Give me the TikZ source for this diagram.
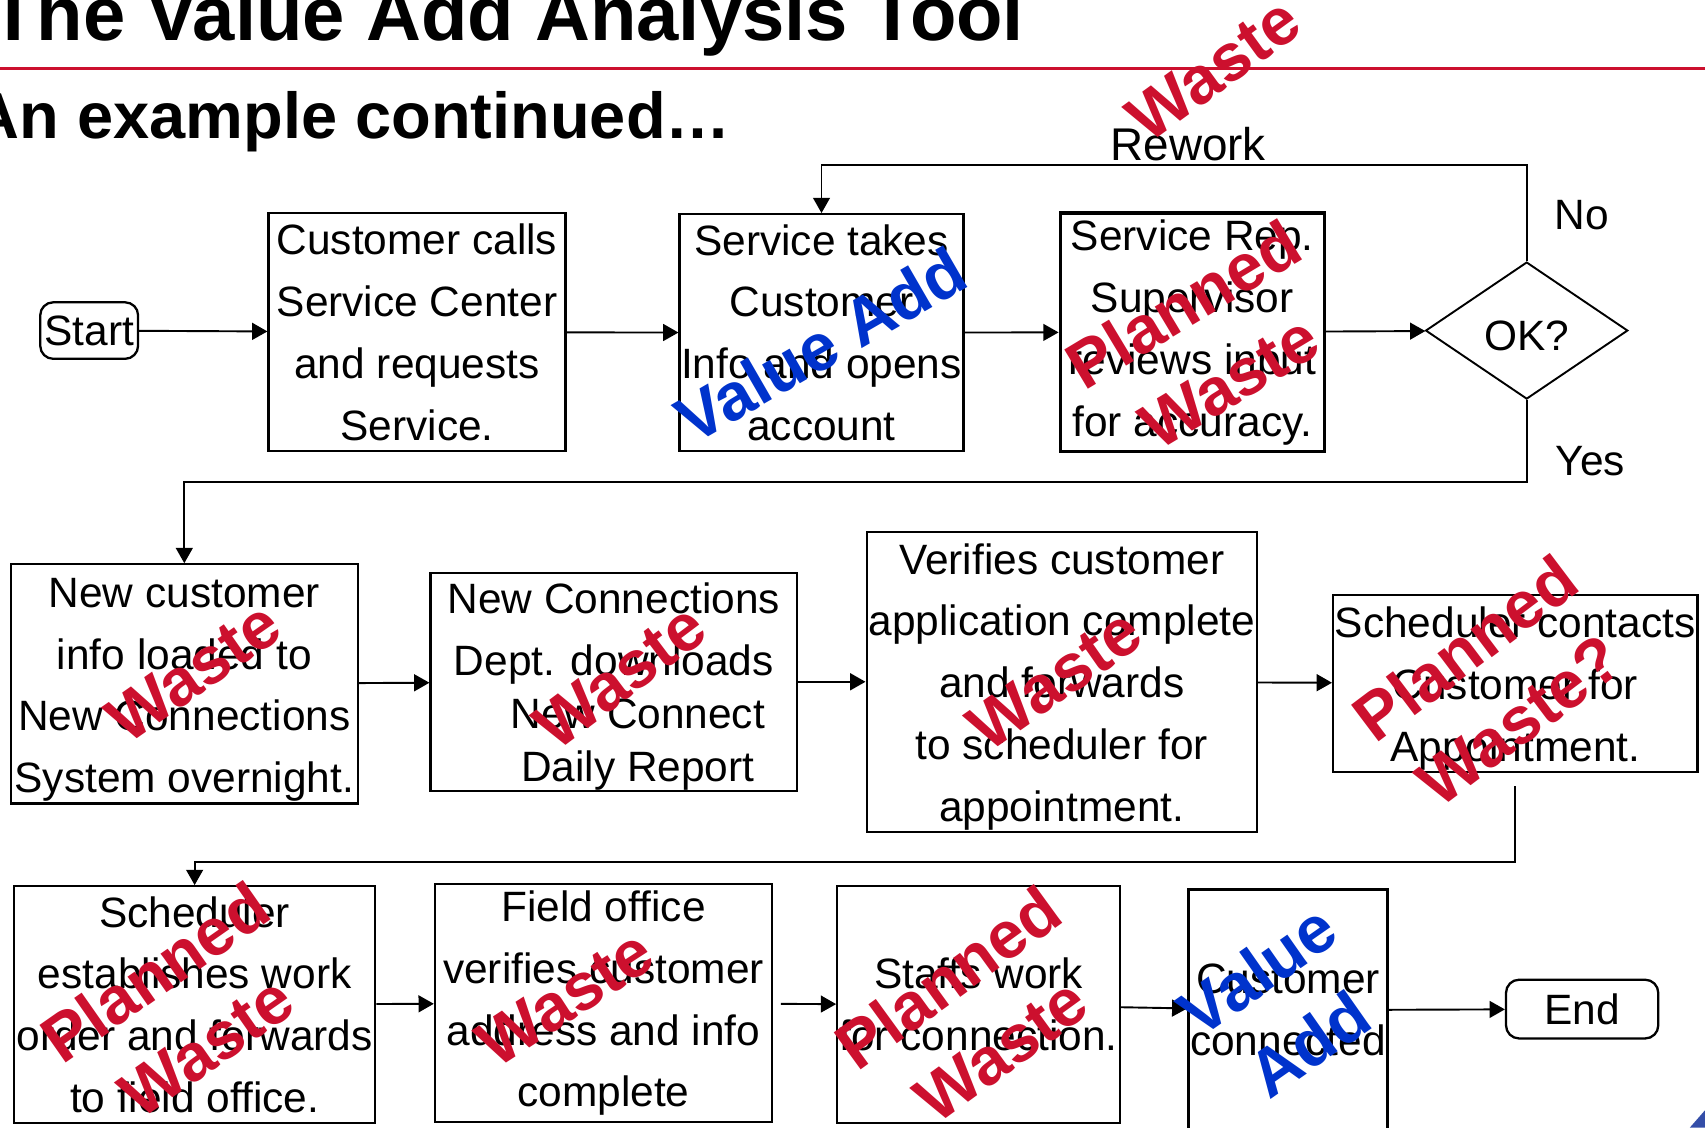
\documentclass[tikz,border=0pt]{standalone}
\usepackage{xcolor}
\usepackage{fontspec}
\setmainfont{Liberation Sans}
\usepackage{tikz}
\usetikzlibrary{arrows.meta,shapes.geometric}
\definecolor{wastered}{RGB}{204,16,46}
\definecolor{addblue}{RGB}{0,51,204}
\definecolor{cornerblue}{RGB}{52,78,168}
\newcommand{\boxlift}{\rule{0pt}{10.7pt}}

\begin{document}
\begin{tikzpicture}[line width=.5pt,
    flow/.style={-{Triangle[length=4pt,width=4.4pt]}},
    term/.style={draw, line width=.6pt, inner sep=0pt, rounded corners=.12cm, font=\fontsize{11.1}{16.2}\selectfont},
    stepbox/.style={draw, line width=.6pt, align=center, inner sep=0pt, font=\fontsize{11.1}{16.2}\selectfont},
    lbl/.style={inner sep=0pt, font=\fontsize{11.1}{16.2}\selectfont},
    stamp/.style={align=center, inner sep=0pt, font=\fontsize{17.4}{23.5}\selectfont\bfseries},
    waste/.style={stamp, text=wastered},
    valueadd/.style={stamp, text=addblue}]
    \useasboundingbox (0,0) rectangle (15.68,-10.37);
    \node[anchor=base west, inner sep=0pt, font=\fontsize{19.9}{24}\selectfont\bfseries] (title) at (-.10,-.37) {The Value Add Analysis Tool};
    \draw[wastered, line width=.7pt] (0,-.63) -- (15.68,-.63);
    \node[anchor=base west, inner sep=0pt, font=\fontsize{17}{21}\selectfont\bfseries] (subtitle) at (-.26,-1.27) {An example continued…};

    \node[term, minimum width=.9cm, minimum height=.52cm] (start) at (.82,-3.04) {Start};
    \node[stepbox, minimum width=2.73cm, minimum height=2.19cm] (calls) at (3.835,-3.055) {Customer calls\\Service Center\\and requests\\Service.};
    \node[stepbox, minimum width=2.61cm, minimum height=2.18cm] (takes) at (7.555,-3.06) {Service takes\\Customer\\Info and opens\\account};
    \node[stepbox, line width=.85pt, minimum width=2.43cm, minimum height=2.19cm] (review) at (10.965,-3.055) {Service Rep.\\Supervisor\\reviews input\\for accuracy.};
    \node[stepbox, shape=diamond, aspect=1.476, line width=.5pt, minimum width=1.86cm, minimum height=1.26cm] (ok) at (14.04,-3.04) {\boxlift OK?};

    \node[stepbox, minimum width=3.19cm, minimum height=2.2cm] (loaded) at (1.695,-6.29) {\boxlift New customer\\info loaded to\\New Connections\\System overnight.};
    \node[stepbox, minimum width=3.37cm, minimum height=2cm] (report) at (5.645,-6.27) {\boxlift New Connections\\Dept. downloads\\[-2.3pt]\hspace*{.44cm}New Connect\\[-2.3pt]\hspace*{.44cm}Daily Report};
    \node[stepbox, minimum width=3.59cm, minimum height=2.76cm] (verify) at (9.765,-6.27) {\boxlift Verifies customer\\application complete\\and forwards\\to scheduler for\\appointment.};
    \node[stepbox, minimum width=3.35cm, minimum height=1.63cm] (contact) at (13.935,-6.285) {\boxlift Scheduler contacts\\Customer for\\Appointment.};

    \node[stepbox, minimum width=3.32cm, minimum height=2.18cm] (order) at (1.79,-9.24) {Scheduler\\establishes work\\order and forwards\\to field office.};
    \node[stepbox, minimum width=3.1cm, minimum height=2.19cm] (field) at (5.55,-9.225) {Field office\\verifies customer\\address and info\\complete};
    \node[stepbox, minimum width=2.6cm, minimum height=2.18cm] (staff) at (9,-9.24) {Staffs work\\for connection.};
    \node[stepbox, minimum width=1.83cm, minimum height=2.22cm] (connect) at (11.845,-9.29) {Customer\\connected};
    \node[term, minimum width=1.4cm, minimum height=.54cm] (end) at (14.55,-9.28) {End};

    \draw[flow] (start) -- (calls);
    \draw[flow] (calls) -- (takes);
    \draw[flow] (takes) -- (review);
    \draw[flow] (review) -- (ok);
    \draw[flow] (ok.north) -- node[lbl, pos=.48, anchor=west, xshift=.25cm] (no) {No} (ok.north |- 0,-1.52) -| node[lbl, pos=.24, anchor=base, yshift=.4mm, font=\fontsize{12}{14}\selectfont] (rework) {Rework} (takes.north);
    \draw[flow] (ok.south) -- node[lbl, pos=.75, anchor=west, xshift=.26cm] (yes) {Yes} (ok.south |- 0,-4.43) -| (loaded.north);
    \draw[flow] (loaded) -- (report);
    \draw[flow] (report) -- (verify);
    \draw[flow] (verify) -- (contact);
    \draw[flow] ([yshift=-.12cm]contact.south) -- ++(0,-.7) -| (order.north);
    \draw[flow] (order) -- (field);
    \draw[flow, shorten <=.07cm] (field) -- (staff);
    \draw[flow] (staff) -- (connect);
    \draw[flow] (connect) -- (end);

    \node[waste, rotate=36] (w0) at (11.16,-.64) {Waste};
    \node[valueadd, rotate=30] (v1) at (7.55,-3.17) {Value Add};
    \node[waste, rotate=31] (w1) at (11.09,-3.15) {Planned\\Waste};
    \node[waste, rotate=35] (w2) at (1.78,-6.18) {Waste};
    \node[waste, rotate=37] (w3) at (5.7,-6.22) {Waste};
    \node[waste, rotate=35] (w4) at (9.7,-6.25) {Waste};
    \node[waste, rotate=37] (w5) at (13.72,-6.29) {Planned\\Waste?};
    \node[waste, rotate=35] (w6) at (1.66,-9.28) {Planned\\Waste};
    \node[waste, rotate=33] (w7) at (5.2,-9.18) {Waste};
    \node[waste, rotate=36] (w8) at (8.96,-9.32) {Planned\\Waste};
    \node[valueadd, rotate=35] (v2) at (11.8,-9.26) {Value\\Add};

    \fill[cornerblue] (15.54,-10.37) -- (15.68,-10.21) -- (15.68,-10.37) -- cycle;
\end{tikzpicture}
\end{document}
